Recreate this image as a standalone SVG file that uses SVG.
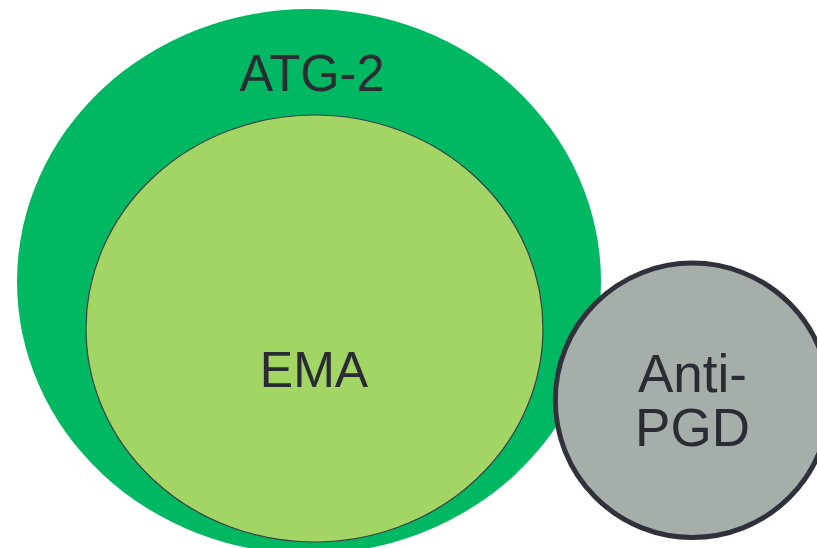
<svg xmlns="http://www.w3.org/2000/svg" width="817" height="548" viewBox="0 0 817 548">
<style>
.lbl{font-family:"Liberation Sans",Arial,sans-serif;fill:#2A2B33;text-anchor:middle}
</style>
<rect width="817" height="548" fill="#FFFFFF"/>
<g id="atg2">
<ellipse cx="309" cy="281.5" rx="292" ry="272.5" fill="#00B862"/>
<text class="lbl" x="312" y="91" font-size="51" textLength="145" lengthAdjust="spacingAndGlyphs">ATG-2</text>
</g>
<g id="ema">
<ellipse cx="314.5" cy="328.5" rx="228.5" ry="213.5" fill="#A2D564" stroke="#3A3F45" stroke-width="1.2"/>
<text class="lbl" x="314" y="387" font-size="50">EMA</text>
</g>
<g id="antipgd">
<circle cx="692.5" cy="400.3" r="137.2" fill="#A5AEA9" stroke="#30313C" stroke-width="5"/>
<text class="lbl" x="692.5" y="392" font-size="53">Anti-</text>
<text class="lbl" x="692.5" y="446" font-size="53">PGD</text>
</g>
<g id="connectors"/>
</svg>
